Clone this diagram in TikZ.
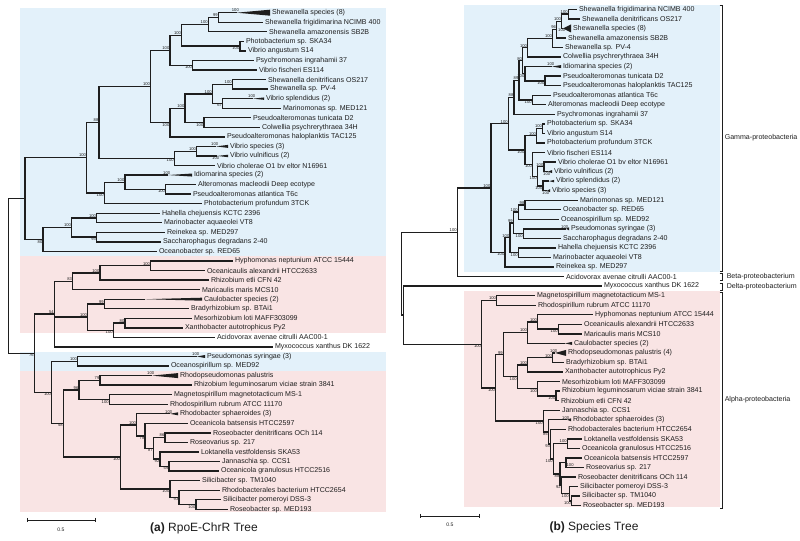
\documentclass[tikz,border=0pt]{standalone}
\usepackage{fontspec}
\setmainfont{Liberation Sans}
\usetikzlibrary{calc}
\definecolor{bluebg}{RGB}{227,241,250}
\definecolor{pinkbg}{RGB}{249,228,228}
\definecolor{ink}{RGB}{30,30,30}
\tikzset{
  br/.style={draw=ink, line width=1pt},
  brk/.style={draw=ink, line width=0.6pt},
  lbl/.style={anchor=west, inner sep=0pt, xshift=1.3pt, text=ink, font=\fontsize{5.3}{6}\selectfont},
  bs/.style={inner sep=0.3pt, text=ink, font=\fontsize{3.1}{3.5}\selectfont},
  grp/.style={anchor=west, inner sep=0pt, text=ink, font=\fontsize{5.3}{6}\selectfont},
}
\newcommand\leaf[4]{%
  \coordinate (#1) at (#2,{\yz+\dy*(#3-1)});
  \node[lbl] (#1-t) at (#1) {#4};}
\newcommand\tri[6]{%
  \coordinate (#1) at (#2,{\yz+\dy*(#4-1)});
  \coordinate (#1-e) at (#3,{\yz+\dy*(#4-1)});
  \fill[ink] (#1) -- ($(#1-e)+(0,-#5)$) -- ($(#1-e)+(0,#5)$) -- cycle;
  \node[lbl] (#1-t) at (#1-e) {#6};}
\newcommand\nd[4]{%
  \coordinate (tmp) at ($(#3)!0.5!(#4)$);
  \coordinate (#1) at (perpendicular cs: horizontal line through={(tmp)}, vertical line through={(#2,0)});
  \draw[br] (#1) |- (#3);
  \draw[br] (#1) |- (#4);}
\newcommand\ba[2]{\node[bs,anchor=south east] (#1-b) at (#1) {#2};}
\newcommand\bb[2]{\node[bs,anchor=north east] (#1-b) at (#1) {#2};}
\newcommand\bta[2]{\node[bs,anchor=south,xshift=-1pt] (#1-b) at (#1) {#2};}
\newcommand\btb[2]{\node[bs,anchor=north,xshift=-1pt] (#1-b) at (#1) {#2};}
\begin{document}
\begin{tikzpicture}[x=0.75pt,y=-0.75pt]
\useasboundingbox (0,0) rectangle (800,541);
\fill[white] (0,0) rectangle (800,541);
% backgrounds
\fill[bluebg] (20,8) rectangle (386,256.2);
\fill[pinkbg] (20,256.2) rectangle (386,332.6);
\fill[bluebg] (20,351.7) rectangle (386,370.8);
\fill[pinkbg] (20,370.8) rectangle (386,512);
\fill[bluebg] (464,5) rectangle (720,271.8);
\fill[pinkbg] (464,291.5) rectangle (720,507.5);

% ================= LEFT TREE =================
\def\yz{12.7}\def\dy{9.55}
\tri{a1}{236.7}{270}{1}{3}{Shewanella species (8)}
\leaf{a2}{263}{2}{Shewanella frigidimarina NCIMB 400}
\leaf{a3}{267}{3}{Shewanella amazonensis SB2B}
\leaf{a4}{244}{4}{Photobacterium sp. SKA34}
\leaf{a5}{246}{5}{Vibrio angustum S14}
\leaf{a6}{254}{6}{Psychromonas ingrahamii 37}
\leaf{a7}{257}{7}{Vibrio fischeri ES114}
\leaf{a8}{266}{8}{Shewanella denitrificans OS217}
\leaf{a9}{268}{9}{Shewanella sp. PV-4}
\tri{a10}{253}{264}{10}{1.2}{Vibrio splendidus (2)}
\leaf{a11}{281}{11}{Marinomonas sp. MED121}
\leaf{a12}{251}{12}{Pseudoalteromonas tunicata D2}
\leaf{a13}{260}{13}{Colwellia psychrerythraea 34H}
\leaf{a14}{225}{14}{Pseudoalteromonas haloplanktis TAC125}
\tri{a15}{216}{228}{15}{1.5}{Vibrio species (3)}
\tri{a16}{217}{228}{16}{1.2}{Vibrio vulnificus (2)}
\leaf{a17}{215}{17}{Vibrio cholerae O1 bv eltor N16961}
\tri{a18}{168}{192}{18}{1.5}{Idiomarina species (2)}
\leaf{a19}{196}{19}{Alteromonas macleodii Deep ecotype}
\leaf{a20}{191}{20}{Pseudoalteromonas atlantica T6c}
\leaf{a21}{202}{21}{Photobacterium profundum 3TCK}
\leaf{a22}{160}{22}{Hahella chejuensis KCTC 2396}
\leaf{a23}{162}{23}{Marinobacter aquaeolei VT8}
\leaf{a24}{165}{24}{Reinekea sp. MED297}
\leaf{a25}{161}{25}{Saccharophagus degradans 2-40}
\leaf{a26}{157}{26}{Oceanobacter sp. RED65}
\leaf{a27}{233}{27}{Hyphomonas neptunium ATCC 15444}
\leaf{a28}{205}{28}{Oceanicaulis alexandrii HTCC2633}
\leaf{a29}{209}{29}{Rhizobium etli CFN 42}
\leaf{a30}{200}{30}{Maricaulis maris MCS10}
\tri{a31}{145}{202}{31}{1.5}{Caulobacter species (2)}
\leaf{a32}{189}{32}{Bradyrhizobium sp. BTAi1}
\leaf{a33}{192}{33}{Mesorhizobium loti MAFF303099}
\leaf{a34}{183}{34}{Xanthobacter autotrophicus Py2}
\leaf{a35}{215}{35}{Acidovorax avenae citrulli AAC00-1}
\leaf{a36}{273}{36}{Myxococcus xanthus DK 1622}
\tri{a37}{197}{205}{37}{1.5}{Pseudomonas syringae (3)}
\leaf{a38}{169}{38}{Oceanospirillum sp. MED92}
\tri{a39}{152}{178}{39}{2.5}{Rhodopseudomonas palustris}
\leaf{a40}{192}{40}{Rhizobium leguminosarum viciae strain 3841}
\leaf{a41}{172}{41}{Magnetospirillum magnetotacticum MS-1}
\leaf{a42}{168}{42}{Rhodospirillum rubrum ATCC 11170}
\tri{a43}{170}{178}{43}{1.5}{Rhodobacter sphaeroides (3)}
\leaf{a44}{188}{44}{Oceanicola batsensis HTCC2597}
\leaf{a45}{211}{45}{Roseobacter denitrificans OCh 114}
\leaf{a46}{188}{46}{Roseovarius sp. 217}
\leaf{a47}{199}{47}{Loktanella vestfoldensis SKA53}
\leaf{a48}{220}{48}{Jannaschia sp. CCS1}
\leaf{a49}{219}{49}{Oceanicola granulosus HTCC2516}
\leaf{a50}{200}{50}{Silicibacter sp. TM1040}
\leaf{a51}{220}{51}{Rhodobacterales bacterium HTCC2654}
\leaf{a52}{221}{52}{Silicibacter pomeroyi DSS-3}
\leaf{a53}{228}{53}{Roseobacter sp. MED193}

\nd{a12n}{218.3}{a1}{a2}\ba{a12n}{99}
\nd{a13n}{208.3}{a12n}{a3}\ba{a13n}{100}
\nd{a45n}{240}{a4}{a5}\bb{a45n}{100}
\nd{a15n}{181.7}{a13n}{a45n}\ba{a15n}{100}
\nd{a67n}{192.7}{a6}{a7}\bb{a67n}{100}
\nd{a17n}{170}{a15n}{a67n}\ba{a17n}{100}
\nd{a89n}{232.3}{a8}{a9}\ba{a89n}{100}
\nd{a1011n}{222.7}{a10}{a11}\bb{a1011n}{67}
\nd{a811n}{212.3}{a89n}{a1011n}\ba{a811n}{100}
\nd{a1213n}{204}{a12}{a13}\bb{a1213n}{100}
\nd{a813n}{185}{a811n}{a1213n}\ba{a813n}{100}
\nd{a814n}{170}{a813n}{a14}\bb{a814n}{100}
\nd{a114n}{150.7}{a17n}{a814n}\ba{a114n}{100}
\nd{a1516n}{196.7}{a15}{a16}\ba{a1516n}{100}
\nd{a1517n}{174.3}{a1516n}{a17}\bb{a1517n}{100}
\nd{a117n}{99}{a114n}{a1517n}\ba{a117n}{88}
\nd{a1920n}{165.7}{a19}{a20}\bb{a1920n}{100}
\nd{a1820n}{125}{a18}{a1920n}\ba{a1820n}{100}
\nd{a1821n}{104.3}{a1820n}{a21}\bb{a1821n}{100}
\nd{a121n}{86.7}{a117n}{a1821n}\ba{a121n}{100}
\nd{a2223n}{96.7}{a22}{a23}\ba{a2223n}{100}
\nd{a2425n}{96.7}{a24}{a25}\bb{a2425n}{93}
\nd{a2225n}{71.7}{a2223n}{a2425n}\ba{a2225n}{100}
\nd{a2226n}{43}{a2225n}{a26}\bb{a2226n}{80}
\nd{a126n}{25}{a121n}{a2226n}
\nd{a2728n}{150.7}{a27}{a28}\ba{a2728n}{100}
\nd{a2729n}{100}{a2728n}{a29}\ba{a2729n}{100}
\nd{a2730n}{72.7}{a2729n}{a30}\ba{a2730n}{83}
\nd{a3132n}{104.3}{a31}{a32}\ba{a3132n}{99}
\nd{a3334n}{125}{a33}{a34}\ba{a3334n}{80}
\nd{a3335n}{113.3}{a3334n}{a35}\bb{a3335n}{100}
\nd{a3135n}{87.7}{a3132n}{a3335n}\ba{a3135n}{100}
\nd{a2736n}{54.3}{a2730n}{a36}\draw[br] (a2736n) |- (a3135n);\ba{a2736n}{54}
\nd{a3738n}{77.7}{a37}{a38}\ba{a3738n}{100}
\nd{a3940n}{100}{a39}{a40}\ba{a3940n}{79}
\nd{a4142n}{109.3}{a41}{a42}\bb{a4142n}{100}
\nd{a3942n}{79}{a3940n}{a4142n}\ba{a3942n}{96}
\nd{a4546n}{165}{a45}{a46}\ba{a4546n}{86}
\nd{a4849n}{169}{a48}{a49}\bb{a4849n}{59}
\nd{a4749n}{160}{a47}{a4849n}\bb{a4749n}{92}
\nd{a4549n}{153.3}{a4546n}{a4749n}\bb{a4549n}{87}
\nd{a4449n}{145}{a44}{a4549n}\bb{a4449n}{78}
\nd{a4349n}{136.7}{a43}{a4449n}\ba{a4349n}{100}
\nd{a5253n}{196}{a52}{a53}\bb{a5253n}{100}
\nd{a5153n}{179}{a51}{a5253n}\bb{a5153n}{93}
\nd{a5053n}{170}{a50}{a5153n}\bb{a5053n}{100}
\nd{a4353n}{120.7}{a4349n}{a5053n}\bb{a4353n}{100}
\nd{a3953n}{63.3}{a3942n}{a4353n}\bb{a3953n}{58}
\nd{a3753n}{51.7}{a3738n}{a3953n}\bb{a3753n}{100}
\nd{a2753n}{34.3}{a2736n}{a3753n}\bb{a2753n}{76}
\nd{aroot}{8.3}{a126n}{a2753n}
\bta{a1}{100}\bta{a10}{100}\bta{a15}{100}\btb{a16}{100}\bta{a18}{100}
\bta{a37}{100}\bta{a39}{100}\bta{a43}{100}

% scale bar and caption
\coordinate (sa1) at (27,520); \coordinate (sa2) at (95,520);
\draw[brk] (sa1) -- (sa2);
\draw[brk] ($(sa1)+(0,-2)$) -- ($(sa1)+(0,2)$);
\draw[brk] ($(sa2)+(0,-2)$) -- ($(sa2)+(0,2)$);
\node[bs,font=\fontsize{3.8}{4}\selectfont] (sa-t) at (61,530) {0.5};
\node[text=ink,font=\fontsize{9}{10}\selectfont] (capa) at (204,528) {\textbf{(a)} RpoE-ChrR Tree};

% ================= RIGHT TREE =================
\def\yz{9.3}\def\dy{9.546}
\leaf{b1}{577}{1}{Shewanella frigidimarina NCIMB 400}
\leaf{b2}{580}{2}{Shewanella denitrificans OS217}
\tri{b3}{563}{571}{3}{4}{Shewanella species (8)}
\leaf{b4}{566}{4}{Shewanella amazonensis SB2B}
\leaf{b5}{563}{5}{Shewanella sp. PV-4}
\leaf{b6}{561}{6}{Colwellia psychrerythraea 34H}
\tri{b7}{552}{561}{7}{1.5}{Idiomarina species (2)}
\leaf{b8}{561}{8}{Pseudoalteromonas tunicata D2}
\leaf{b9}{561}{9}{Pseudoalteromonas haloplanktis TAC125}
\leaf{b10}{551}{10}{Pseudoalteromonas atlantica T6c}
\leaf{b11}{546}{11}{Alteromonas macleodii Deep ecotype}
\leaf{b12}{555}{12}{Psychromonas ingrahamii 37}
\leaf{b13}{545}{13}{Photobacterium sp. SKA34}
\leaf{b14}{545}{14}{Vibrio angustum S14}
\leaf{b15}{545}{15}{Photobacterium profundum 3TCK}
\leaf{b16}{545}{16}{Vibrio fischeri ES114}
\leaf{b17}{556}{17}{Vibrio cholerae O1 bv eltor N16961}
\tri{b18}{548}{552}{18}{1.5}{Vibrio vulnificus (2)}
\tri{b19}{549}{554}{19}{1.2}{Vibrio splendidus (2)}
\tri{b20}{547}{550}{20}{1.5}{Vibrio species (3)}
\leaf{b21}{578}{21}{Marinomonas sp. MED121}
\leaf{b22}{561}{22}{Oceanobacter sp. RED65}
\leaf{b23}{559}{23}{Oceanospirillum sp. MED92}
\tri{b24}{566}{569}{24}{1.5}{Pseudomonas syringae (3)}
\leaf{b25}{561}{25}{Saccharophagus degradans 2-40}
\leaf{b26}{556}{26}{Hahella chejuensis KCTC 2396}
\leaf{b27}{551}{27}{Marinobacter aquaeolei VT8}
\leaf{b28}{554}{28}{Reinekea sp. MED297}
\leaf{b29}{564}{29}{Acidovorax avenae citrulli AAC00-1}
\leaf{b30}{602}{30}{Myxococcus xanthus DK 1622}
\leaf{b31}{535}{31}{Magnetospirillum magnetotacticum MS-1}
\leaf{b32}{536}{32}{Rhodospirillum rubrum ATCC 11170}
\leaf{b33}{593}{33}{Hyphomonas neptunium ATCC 15444}
\leaf{b34}{582}{34}{Oceanicaulis alexandrii HTCC2633}
\leaf{b35}{582}{35}{Maricaulis maris MCS10}
\tri{b36}{565}{572}{36}{1.5}{Caulobacter species (2)}
\tri{b37}{555}{566}{37}{3}{Rhodopseudomonas palustris (4)}
\leaf{b38}{564}{38}{Bradyrhizobium sp. BTAi1}
\leaf{b39}{563}{39}{Xanthobacter autotrophicus Py2}
\leaf{b40}{560}{40}{Mesorhizobium loti MAFF303099}
\leaf{b41}{560}{41}{Rhizobium leguminosarum viciae strain 3841}
\leaf{b42}{559}{42}{Rhizobium etli CFN 42}
\leaf{b43}{560}{43}{Jannaschia sp. CCS1}
\tri{b44}{567}{571}{44}{1.5}{Rhodobacter sphaeroides (3)}
\leaf{b45}{566}{45}{Rhodobacterales bacterium HTCC2654}
\leaf{b46}{582}{46}{Loktanella vestfoldensis SKA53}
\leaf{b47}{580}{47}{Oceanicola granulosus HTCC2516}
\leaf{b48}{582}{48}{Oceanicola batsensis HTCC2597}
\leaf{b49}{584}{49}{Roseovarius sp. 217}
\leaf{b50}{576}{50}{Roseobacter denitrificans OCh 114}
\leaf{b51}{578}{51}{Silicibacter pomeroyi DSS-3}
\leaf{b52}{580}{52}{Silicibacter sp. TM1040}
\leaf{b53}{581}{53}{Roseobacter sp. MED193}

\nd{b12n}{568.3}{b1}{b2}\ba{b12n}{100}
\nd{b13n}{561.7}{b12n}{b3}\ba{b13n}{100}
\nd{b14n}{556.7}{b13n}{b4}\ba{b14n}{96}
\nd{b15n}{552.7}{b14n}{b5}\ba{b15n}{100}
\nd{b16n}{527.7}{b15n}{b6}\ba{b16n}{100}
\nd{b89n}{545}{b8}{b9}\bb{b89n}{100}
\nd{b79n}{525}{b7}{b89n}\bb{b79n}{100}
\nd{b19n}{522.7}{b16n}{b79n}\ba{b19n}{80}
\nd{b1011n}{532.3}{b10}{b11}\bb{b1011n}{100}
\nd{b111n}{519}{b19n}{b1011n}\ba{b111n}{89}
\nd{b112n}{514}{b111n}{b12}\ba{b112n}{88}
\nd{b1314n}{542.7}{b13}{b14}\ba{b1314n}{100}
\nd{b1315n}{536.7}{b1314n}{b15}\ba{b1315n}{100}
\nd{b1718n}{544}{b17}{b18}\ba{b1718n}{100}
\nd{b1920n}{543}{b19}{b20}\bb{b1920n}{100}
\nd{b1720n}{537.3}{b1718n}{b1920n}\bb{b1720n}{100}
\nd{b1620n}{532.7}{b16}{b1720n}\bb{b1620n}{100}
\nd{b1320n}{525}{b1315n}{b1620n}\bb{b1320n}{100}
\nd{b120n}{508.3}{b112n}{b1320n}\ba{b120n}{100}
\nd{b2122n}{525}{b21}{b22}\ba{b2122n}{98}
\nd{b2123n}{518.3}{b2122n}{b23}\ba{b2123n}{100}
\nd{b2425n}{523.3}{b24}{b25}\bb{b2425n}{100}
\nd{b2125n}{513.3}{b2123n}{b2425n}\ba{b2125n}{99}
\nd{b2627n}{518.3}{b26}{b27}\bb{b2627n}{100}
\nd{b2127n}{510}{b2125n}{b2627n}\ba{b2127n}{100}
\nd{b2128n}{505}{b2127n}{b28}\bb{b2128n}{100}
\nd{b128n}{491}{b120n}{b2128n}\ba{b128n}{100}
\nd{b129n}{457.3}{b128n}{b29}\ba{b129n}{100}
\nd{b3132n}{496.7}{b31}{b32}\ba{b3132n}{100}
\nd{b3435n}{558.3}{b34}{b35}\bb{b3435n}{100}
\nd{b3335n}{537.7}{b33}{b3435n}\ba{b3335n}{100}
\nd{b3336n}{527.7}{b3335n}{b36}\ba{b3336n}{100}
\nd{b3738n}{552.7}{b37}{b38}\ba{b3738n}{100}
\nd{b3739n}{527.7}{b3738n}{b39}\ba{b3739n}{100}
\nd{b4142n}{556}{b41}{b42}\bb{b4142n}{100}
\nd{b4042n}{537.7}{b40}{b4142n}\bb{b4042n}{100}
\nd{b3742n}{517.3}{b3739n}{b4042n}\bb{b3742n}{100}
\nd{b3342n}{503.3}{b3336n}{b3742n}\ba{b3342n}{99}
\nd{b5253n}{571.7}{b52}{b53}\bb{b5253n}{100}
\nd{b5153n}{569.3}{b51}{b5253n}\bb{b5153n}{100}
\nd{b5053n}{561.3}{b50}{b5153n}\bb{b5053n}{92}
\nd{b4849n}{566}{b48}{b49}\node[bs,anchor=north west] (b4849n-b) at (b4849n) {100};
\nd{b4853n}{560}{b4849n}{b5053n}\bb{b4853n}{88}
\nd{b4647n}{567.3}{b46}{b47}\ba{b4647n}{100}
\nd{b4653n}{553.3}{b4647n}{b4853n}\bb{b4653n}{100}
\nd{b4553n}{550.7}{b45}{b4653n}\bb{b4553n}{93}
\nd{b4453n}{548.3}{b44}{b4553n}\bb{b4453n}{85}
\nd{b4353n}{543.3}{b43}{b4453n}\bb{b4353n}{100}
\nd{b3353n}{495.7}{b3342n}{b4353n}\bb{b3353n}{100}
\nd{b3153n}{481.7}{b3132n}{b3353n}\bb{b3153n}{100}
\nd{b3053n}{403.3}{b30}{b3153n}
\nd{broot}{401.5}{b129n}{b3053n}
\btb{b3}{100}\bta{b7}{100}\btb{b18}{100}\btb{b20}{100}\bta{b24}{100}\bta{b37}{100}\bta{b44}{100}

% brackets
\draw[brk] (719.5,5.5) -- (722,5.5) -- (722,271) -- (719.5,271);
\draw[brk] (719.5,273.5) -- (722,273.5) -- (722,280.5) -- (719.5,280.5);
\draw[brk] (719.5,283) -- (722,283) -- (722,290.5) -- (719.5,290.5);
\draw[brk] (719.5,292.5) -- (722,292.5) -- (722,508) -- (719.5,508);
\node[grp] (gam) at (724.5,138) {Gamma-proteobacteria};
\node[grp] (bet) at (726.5,277) {Beta-proteobacterium};
\node[grp] (del) at (726.5,286.8) {Delta-proteobacterium};
\node[grp] (alp) at (724.5,400) {Alpha-proteobacteria};

% scale bar and caption
\coordinate (sb1) at (420,516); \coordinate (sb2) at (479,516);
\draw[brk] (sb1) -- (sb2);
\draw[brk] ($(sb1)+(0,-2)$) -- ($(sb1)+(0,2)$);
\draw[brk] ($(sb2)+(0,-2)$) -- ($(sb2)+(0,2)$);
\node[bs,font=\fontsize{3.8}{4}\selectfont] (sb-t) at (450,525) {0.5};
\node[text=ink,font=\fontsize{9}{10}\selectfont] (capb) at (594,527) {\textbf{(b)} Species Tree};
\end{tikzpicture}
\end{document}
